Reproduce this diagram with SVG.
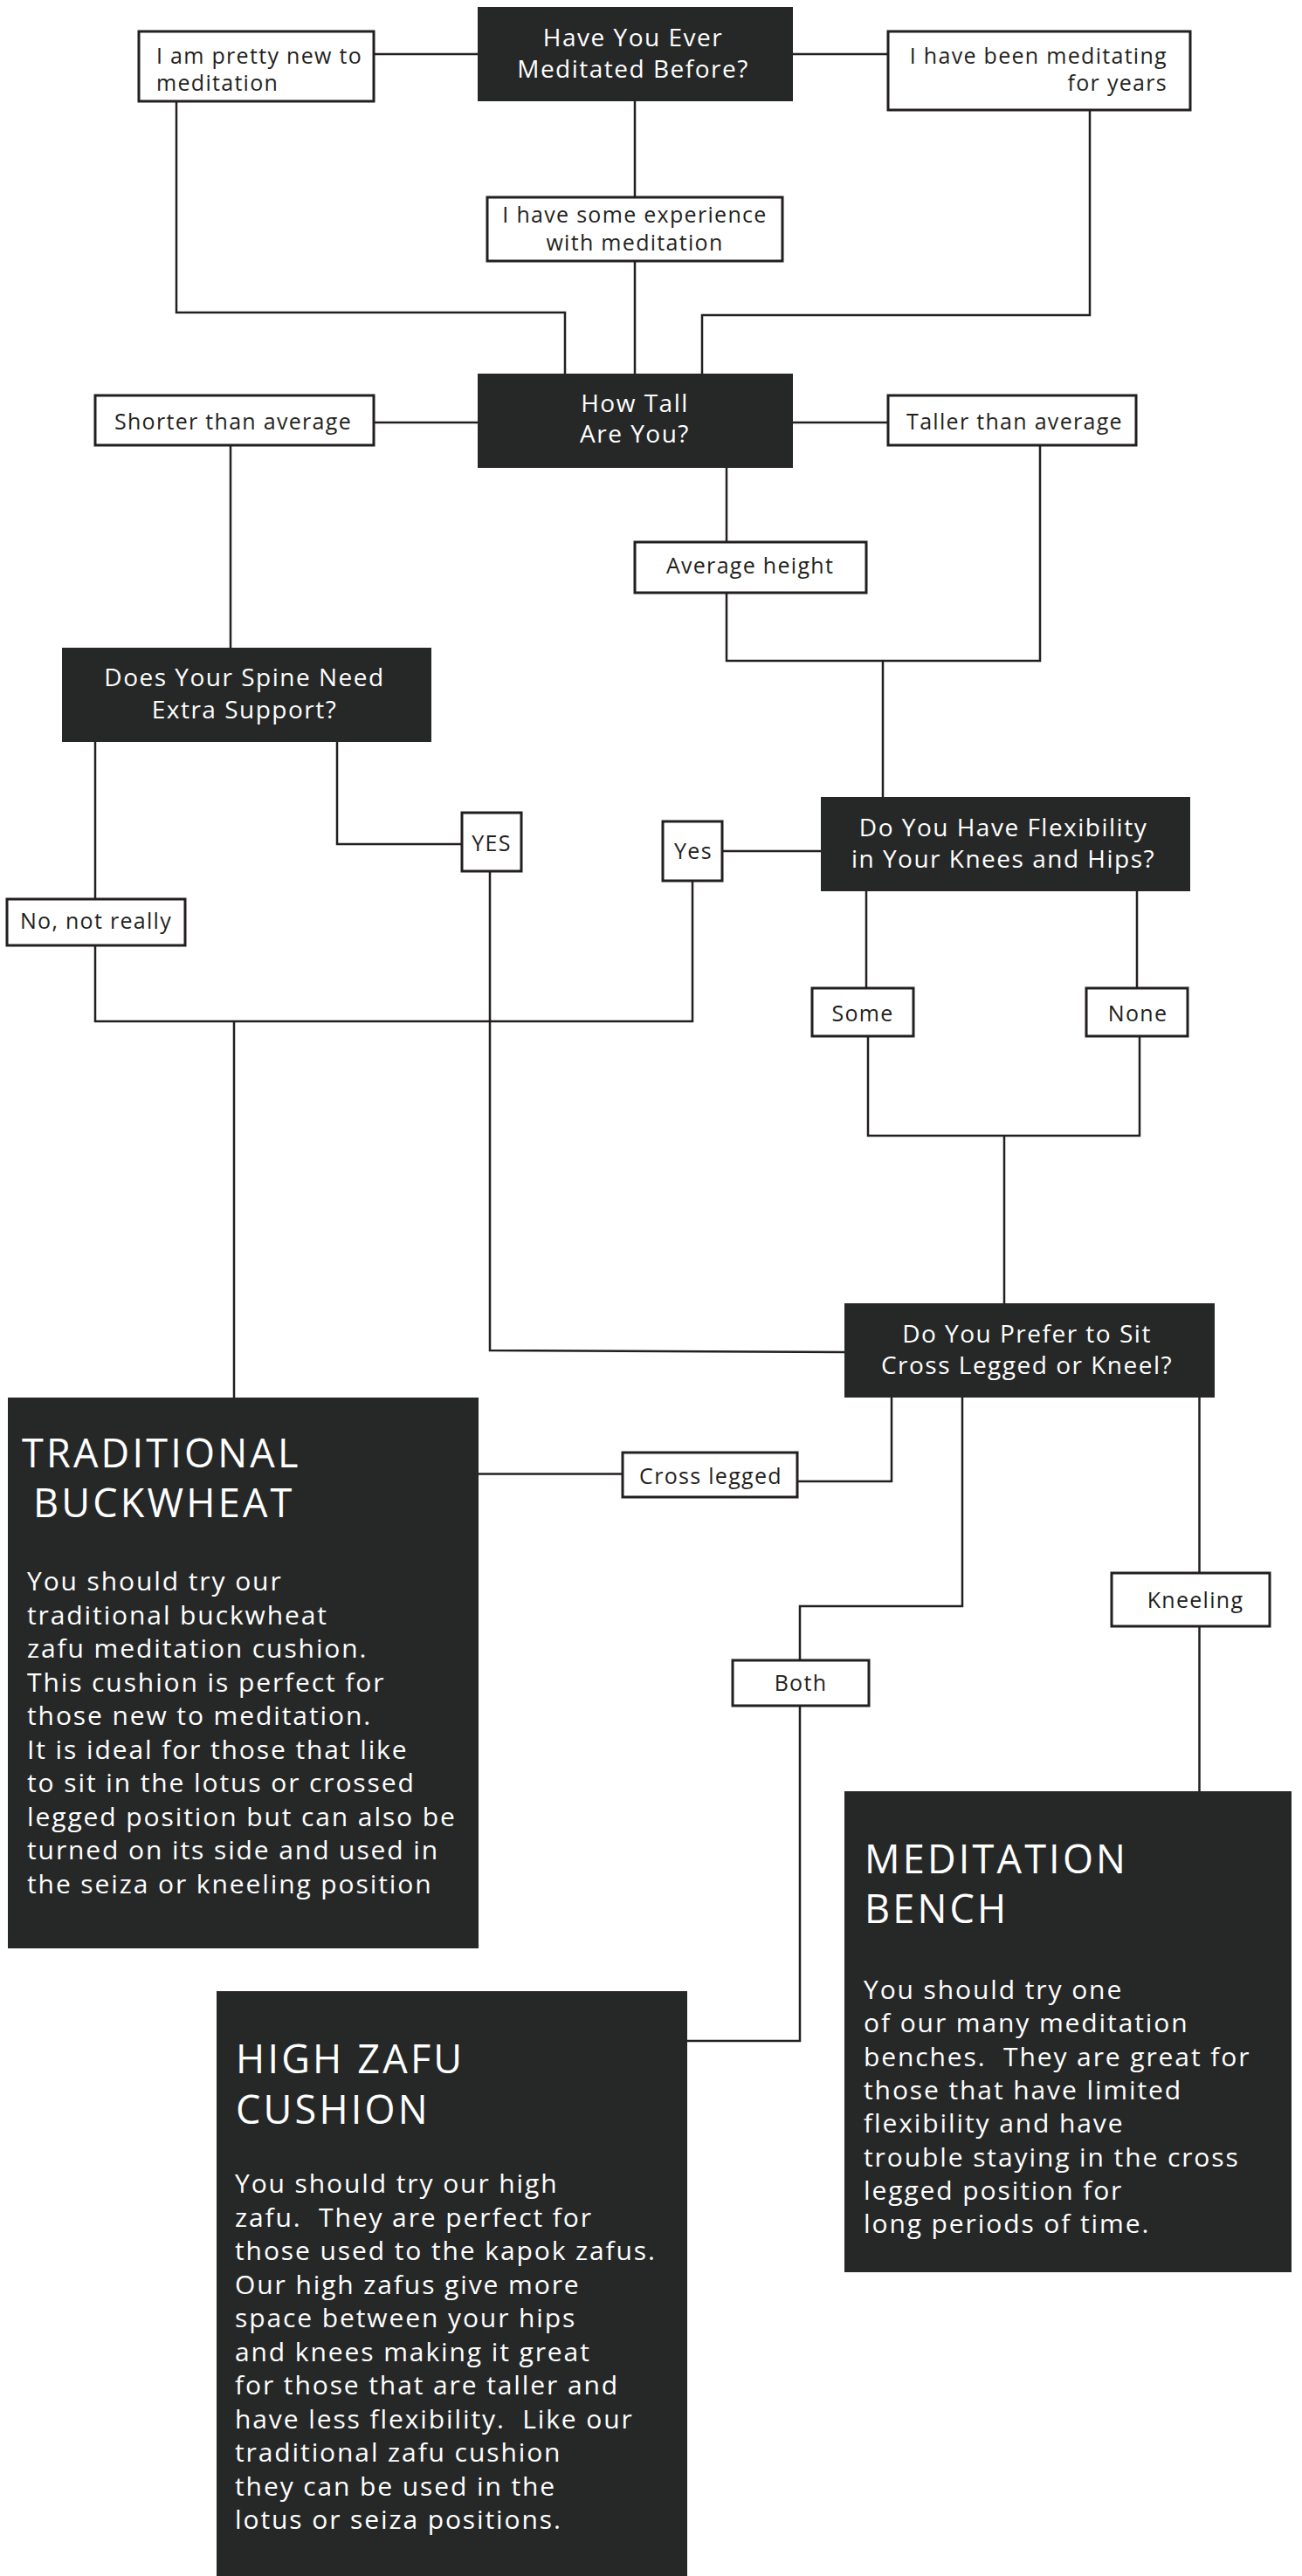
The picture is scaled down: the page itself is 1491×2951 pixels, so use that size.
<svg xmlns="http://www.w3.org/2000/svg" width="1491" height="2951" viewBox="0 0 1491 2951">
<style>
.bg{fill:#ffffff}
.dark{fill:#262827}
.lbl{fill:#ffffff;stroke:#231f20;stroke-width:3}
.conn path{fill:none;stroke:#231f20;stroke-width:2.5}
text{font-family:"Open Sans","Noto Sans","Liberation Sans",sans-serif}
.tq{font-size:28px;fill:#ffffff;letter-spacing:1.5px;text-anchor:middle}
.tl{font-size:25px;fill:#231f20;letter-spacing:1.3px}
.tc{text-anchor:middle}
.te{text-anchor:end}
.th{font-size:45px;fill:#ffffff;letter-spacing:3.2px}
.tb{font-size:30px;fill:#ffffff;letter-spacing:1.9px}
</style>
<rect class="bg" x="0" y="0" width="1491" height="2951"/>
<g id="connectors" class="conn">
<path d="M428,62 H547"/>
<path d="M908,62 H1017"/>
<path d="M727,116 V226"/>
<path d="M727,299 V428"/>
<path d="M202,116 V358 H647 V428"/>
<path d="M1248,126 V361 H804 V428"/>
<path d="M428,484 H547"/>
<path d="M908,484 H1017"/>
<path d="M264,510 V742"/>
<path d="M832,536 V621"/>
<path d="M832,679 V757 H1191 V510"/>
<path d="M1011,757 V913"/>
<path d="M109,850 V1030"/>
<path d="M386,850 V967 H529"/>
<path d="M940,975 H827"/>
<path d="M109,1083 V1170 H793 V1009"/>
<path d="M268,1170 V1601"/>
<path d="M561,998 V1547 L967,1549"/>
<path d="M992,1021 V1132"/>
<path d="M1302,1021 V1132"/>
<path d="M994,1187 V1301 H1305 V1187"/>
<path d="M1150,1301 V1493"/>
<path d="M548,1688.5 H713"/>
<path d="M913,1697 H1021 V1601"/>
<path d="M1102,1601 V1840 H916 V1902"/>
<path d="M916,1954 V2338 H787"/>
<path d="M1373.5,1601 V1802"/>
<path d="M1373.5,1863 V2052"/>
</g>
<g id="q-meditated">
<rect class="dark" x="547" y="8" width="361" height="108"/>
<text class="tq" x="725" y="53">Have You Ever</text>
<text class="tq" x="725" y="88.5">Meditated Before?</text>
</g>
<g id="a-new">
<rect class="lbl" x="159" y="36" width="269" height="80"/>
<text class="tl" x="179" y="73">I am pretty new to</text>
<text class="tl" x="179" y="104">meditation</text>
</g>
<g id="a-years">
<rect class="lbl" x="1017" y="36" width="346" height="90"/>
<text class="tl te" x="1337" y="73">I have been meditating</text>
<text class="tl te" x="1337" y="104">for years</text>
</g>
<g id="a-some-exp">
<rect class="lbl" x="558" y="226" width="338" height="73"/>
<text class="tl tc" x="727" y="255">I have some experience</text>
<text class="tl tc" x="727" y="287">with meditation</text>
</g>
<g id="q-tall">
<rect class="dark" x="547" y="428" width="361" height="108"/>
<text class="tq" x="727" y="472">How Tall</text>
<text class="tq" x="727" y="507">Are You?</text>
</g>
<g id="a-shorter">
<rect class="lbl" x="109" y="453" width="319" height="57"/>
<text class="tl tc" x="267" y="492">Shorter than average</text>
</g>
<g id="a-taller">
<rect class="lbl" x="1017" y="453" width="284" height="57"/>
<text class="tl tc" x="1162" y="492">Taller than average</text>
</g>
<g id="a-average">
<rect class="lbl" x="727" y="621" width="265" height="58"/>
<text class="tl tc" x="859" y="657">Average height</text>
</g>
<g id="q-spine">
<rect class="dark" x="71" y="742" width="423" height="108"/>
<text class="tq" x="280" y="786">Does Your Spine Need</text>
<text class="tq" x="280" y="823">Extra Support?</text>
</g>
<g id="a-yes-spine">
<rect class="lbl" x="529" y="931" width="68" height="67"/>
<text class="tl tc" x="563" y="975">YES</text>
</g>
<g id="a-yes-flex">
<rect class="lbl" x="759" y="941" width="68" height="68"/>
<text class="tl tc" x="794" y="984">Yes</text>
</g>
<g id="q-flex">
<rect class="dark" x="940" y="913" width="423" height="108"/>
<text class="tq" x="1149" y="958">Do You Have Flexibility</text>
<text class="tq" x="1149" y="994">in Your Knees and Hips?</text>
</g>
<g id="a-no">
<rect class="lbl" x="8" y="1030" width="204" height="53"/>
<text class="tl tc" x="110" y="1064">No, not really</text>
</g>
<g id="a-some">
<rect class="lbl" x="930" y="1132" width="116" height="55"/>
<text class="tl tc" x="988" y="1170">Some</text>
</g>
<g id="a-none">
<rect class="lbl" x="1244" y="1132" width="116" height="55"/>
<text class="tl tc" x="1303" y="1170">None</text>
</g>
<g id="q-prefer">
<rect class="dark" x="967" y="1493" width="424" height="108"/>
<text class="tq" x="1176" y="1538">Do You Prefer to Sit</text>
<text class="tq" x="1176" y="1574">Cross Legged or Kneel?</text>
</g>
<g id="a-cross">
<rect class="lbl" x="713" y="1664" width="200" height="51"/>
<text class="tl tc" x="814" y="1700">Cross legged</text>
</g>
<g id="a-kneeling">
<rect class="lbl" x="1273" y="1802" width="181" height="61"/>
<text class="tl tc" x="1369" y="1842">Kneeling</text>
</g>
<g id="a-both">
<rect class="lbl" x="839" y="1902" width="156" height="52"/>
<text class="tl tc" x="917" y="1937">Both</text>
</g>
<g id="r-buckwheat">
<rect class="dark" x="9" y="1601" width="539" height="631"/>
<text class="th" x="25" y="1681">TRADITIONAL</text>
<text class="th" x="38" y="1737.5">BUCKWHEAT</text>
<text class="tb" xml:space="preserve"><tspan x="31" y="1822">You should try our</tspan><tspan x="31" y="1860.5">traditional buckwheat</tspan><tspan x="31" y="1899">zafu meditation cushion.</tspan><tspan x="31" y="1937.5">This cushion is perfect for</tspan><tspan x="31" y="1976">those new to meditation.</tspan><tspan x="31" y="2014.5">It is ideal for those that like</tspan><tspan x="31" y="2053">to sit in the lotus or crossed</tspan><tspan x="31" y="2091.5">legged position but can also be</tspan><tspan x="31" y="2130">turned on its side and used in</tspan><tspan x="31" y="2168.5">the seiza or kneeling position</tspan></text>
</g>
<g id="r-bench">
<rect class="dark" x="967" y="2052" width="512" height="551"/>
<text class="th" x="990" y="2146">MEDITATION</text>
<text class="th" x="990" y="2203">BENCH</text>
<text class="tb" xml:space="preserve"><tspan x="989" y="2290">You should try one</tspan><tspan x="989" y="2328.3">of our many meditation</tspan><tspan x="989" y="2366.6">benches.  They are great for</tspan><tspan x="989" y="2404.9">those that have limited</tspan><tspan x="989" y="2443.2">flexibility and have</tspan><tspan x="989" y="2481.5">trouble staying in the cross</tspan><tspan x="989" y="2519.8">legged position for</tspan><tspan x="989" y="2558.1">long periods of time.</tspan></text>
</g>
<g id="r-highzafu">
<rect class="dark" x="248" y="2281" width="539" height="670"/>
<text class="th" x="270" y="2375">HIGH ZAFU</text>
<text class="th" x="270" y="2432.5">CUSHION</text>
<text class="tb" xml:space="preserve"><tspan x="269" y="2512">You should try our high</tspan><tspan x="269" y="2550.5">zafu.  They are perfect for</tspan><tspan x="269" y="2589">those used to the kapok zafus.</tspan><tspan x="269" y="2627.5">Our high zafus give more</tspan><tspan x="269" y="2666">space between your hips</tspan><tspan x="269" y="2704.5">and knees making it great</tspan><tspan x="269" y="2743">for those that are taller and</tspan><tspan x="269" y="2781.5">have less flexibility.  Like our</tspan><tspan x="269" y="2820">traditional zafu cushion</tspan><tspan x="269" y="2858.5">they can be used in the</tspan><tspan x="269" y="2897">lotus or seiza positions.</tspan></text>
</g>
</svg>
